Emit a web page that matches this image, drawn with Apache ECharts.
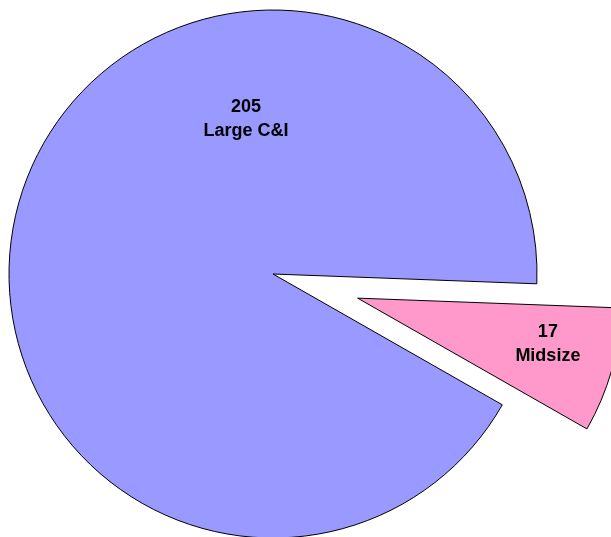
<!DOCTYPE html>
<html>
<head>
<meta charset="utf-8">
<style>
  html, body { margin: 0; padding: 0; background: #fff; }
  #chart { width: 611px; height: 537px; }
</style>
<script src="https://cdn.jsdelivr.net/npm/echarts@6/dist/echarts.min.js"></script>
</head>
<body>
<div id="chart"></div>
<script>
// Segment names and counts
const categories = ['Large C&I', 'Midsize'];
const counts = [205, 17];
const sliceColors = ['#9999FF', '#FF99CC'];
const explodedSegment = 'Midsize';

// Where each two-line label block should be centred
const labelAnchors = {
  'Large C&I': [249, 120],
  'Midsize': [545, 343]
};

// Pie geometry
const pieCenter = [273, 274];
const pieRadius = 264;
const pieStart = 330.3;     // degrees, drawn clockwise
const explodeOffset = 88;

// Default 'inside' label point of a slice (half radius on its bisector),
// used to turn the anchors above into label offsets.
const total = counts.reduce((a, b) => a + b, 0);
let cum = 0;
const labelOffsets = counts.map((v, i) => {
  const span = v / total * 360;
  const mid = (pieStart - cum - span / 2) * Math.PI / 180;
  cum += span;
  const shift = categories[i] === explodedSegment ? explodeOffset : 0;
  const d = pieRadius / 2 + shift;
  const px = pieCenter[0] + d * Math.cos(mid);
  const py = pieCenter[1] - d * Math.sin(mid);
  const a = labelAnchors[categories[i]];
  return [a[0] - px, a[1] - py];
});

const chart = echarts.init(document.getElementById('chart'), null, { renderer: 'canvas' });

const seriesData = categories.map((name, i) => ({
  name: name,
  value: counts[i],
  selected: name === explodedSegment,
  itemStyle: { color: sliceColors[i] },
  label: { offset: labelOffsets[i] },
  select: { label: { offset: labelOffsets[i] } }
}));

chart.setOption({
  animation: false,
  backgroundColor: '#ffffff',
  series: [{
    type: 'pie',
    center: pieCenter,
    radius: pieRadius,
    startAngle: pieStart,
    clockwise: true,
    selectedMode: 'single',
    selectedOffset: explodeOffset,
    avoidLabelOverlap: false,
    silent: true,
    itemStyle: { borderColor: '#000000', borderWidth: 1 },
    emphasis: { disabled: true },
    label: {
      show: true,
      position: 'inside',
      formatter: p => p.value + '\n' + p.name,
      fontFamily: 'Liberation Sans, Arial, sans-serif',
      fontWeight: 'bold',
      fontSize: 18,
      lineHeight: 24,
      color: '#000000',
      align: 'center',
      verticalAlign: 'middle'
    },
    labelLine: { show: false },
    data: seriesData
  }]
});
</script>
</body>
</html>
